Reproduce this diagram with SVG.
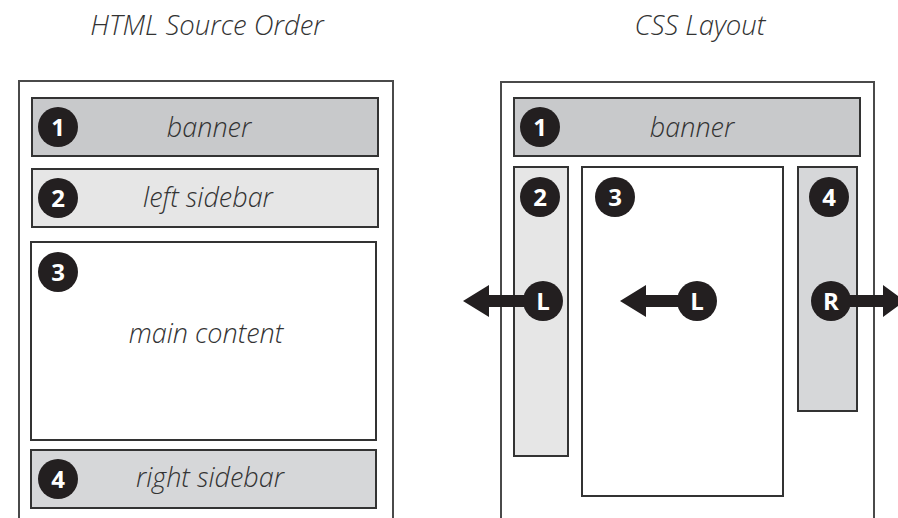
<svg xmlns="http://www.w3.org/2000/svg" width="898" height="518" viewBox="0 0 898 518">
<defs>
<style>
.outer{fill:#fff;stroke:#4a4a4a;stroke-width:2}
.box{stroke:#333;stroke-width:2}
.dark{fill:#c8c9cb}
.light{fill:#e6e6e6}
.mid{fill:#d6d7d9}
.white{fill:#fff}
.lbl{font-family:"Open Sans","Liberation Sans",sans-serif;font-style:italic;font-weight:300;font-size:27px;fill:#333;text-anchor:middle}
.title{font-family:"Open Sans","Liberation Sans",sans-serif;font-style:italic;font-weight:300;font-size:27.5px;fill:#333;text-anchor:middle}
.badge{fill:#231f20}
.num{font-family:"Open Sans","Liberation Sans",sans-serif;font-weight:bold;font-size:24px;fill:#fff;text-anchor:middle}
.arrow{fill:#231f20}
</style>
</defs>
<rect width="898" height="518" fill="#fff"/>
<text class="title" x="207" y="35">HTML Source Order</text>
<text class="title" x="700" y="35">CSS Layout</text>

<g id="left-page">
<rect class="outer" x="19" y="81" width="374" height="460"/>
</g>
<g id="left-banner">
<rect class="box dark" x="32" y="98" width="346" height="58"/>
<circle class="badge" cx="58" cy="127" r="20"/>
<text class="num" x="58" y="135.5">1</text>
<text class="lbl" x="209" y="137">banner</text>
</g>
<g id="left-sidebar">
<rect class="box light" x="32" y="169" width="346" height="58"/>
<circle class="badge" cx="58" cy="198" r="20"/>
<text class="num" x="58" y="206.5">2</text>
<text class="lbl" x="208" y="207">left sidebar</text>
</g>
<g id="left-main">
<rect class="box white" x="31" y="242" width="345" height="198"/>
<circle class="badge" cx="58" cy="272" r="20"/>
<text class="num" x="58" y="280.5">3</text>
<text class="lbl" x="206" y="343">main content</text>
</g>
<g id="left-right-sidebar">
<rect class="box mid" x="31" y="450" width="345" height="58"/>
<circle class="badge" cx="58" cy="479" r="20"/>
<text class="num" x="58" y="487.5">4</text>
<text class="lbl" x="210" y="487">right sidebar</text>
</g>

<g id="right-page">
<rect class="outer" x="501" y="82" width="373" height="460"/>
</g>
<g id="css-banner">
<rect class="box dark" x="514" y="98" width="346" height="58"/>
<circle class="badge" cx="540" cy="127" r="20"/>
<text class="num" x="540" y="135.5">1</text>
<text class="lbl" x="692" y="137">banner</text>
</g>
<g id="css-left-sidebar">
<rect class="box light" x="514" y="167" width="54" height="289"/>
<circle class="badge" cx="540" cy="197" r="20"/>
<text class="num" x="540" y="205.5">2</text>
</g>
<g id="css-main">
<rect class="box white" x="582" y="167" width="201" height="329"/>
<circle class="badge" cx="615" cy="197" r="20"/>
<text class="num" x="615" y="205.5">3</text>
</g>
<g id="css-right-sidebar">
<rect class="box mid" x="798" y="167" width="59" height="244"/>
<circle class="badge" cx="829" cy="197" r="20"/>
<text class="num" x="829" y="205.5">4</text>
</g>

<g id="connectors">
<g id="float-left-1">
<polygon class="arrow" points="463,301 489,285 489,295 530,295 530,307 489,307 489,317"/>
<circle class="badge" cx="543" cy="301" r="20"/>
<text class="num" x="543" y="309.5">L</text>
</g>
<g id="float-left-2">
<polygon class="arrow" points="620,301 646,285 646,295 685,295 685,307 646,307 646,317"/>
<circle class="badge" cx="697" cy="301" r="20"/>
<text class="num" x="697" y="309.5">L</text>
</g>
<g id="float-right">
<polygon class="arrow" points="905,301 883,285 883,295 845,295 845,307 883,307 883,317"/>
<circle class="badge" cx="831" cy="301" r="20"/>
<text class="num" x="831" y="309.5">R</text>
</g>
</g>
</svg>
